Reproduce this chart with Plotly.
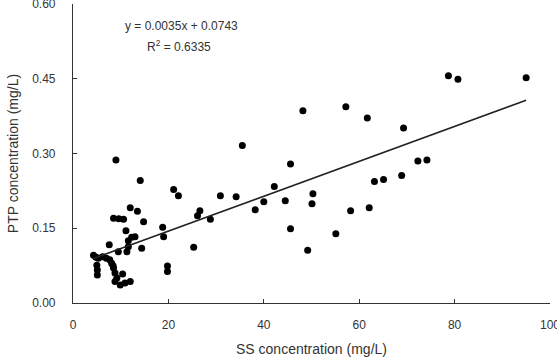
import plotly.graph_objects as go

ss = [78.7, 80.7, 95.0, 61.7, 69.3, 72.3, 74.2, 63.2, 65.1, 68.9, 62.1,
      48.2, 57.2, 35.5, 45.6, 30.9, 34.2, 42.2, 40.0, 38.2, 44.5, 50.3, 50.1,
      58.2, 26.6, 26.1, 28.8, 45.6, 55.1, 49.2, 25.3,
      9.0, 14.1, 21.1, 22.1, 12.0, 13.5, 8.5, 9.6, 10.6, 14.8, 18.8, 19.0,
      11.1, 12.3, 13.0, 11.6, 7.6, 14.4, 11.6, 9.5,
      4.3, 4.8, 5.3, 6.2, 7.0, 7.7, 8.1, 8.4,
      5.0, 5.1, 5.1, 8.5, 8.8, 9.2, 8.8, 10.4, 9.9, 10.9, 12.0,
      19.8, 19.8, 11.3]
ptp = [0.456, 0.449, 0.452, 0.371, 0.351, 0.285, 0.287, 0.244, 0.248, 0.256, 0.191,
       0.386, 0.394, 0.316, 0.279, 0.215, 0.213, 0.234, 0.203, 0.187, 0.205, 0.219, 0.199,
       0.185, 0.185, 0.175, 0.168, 0.149, 0.139, 0.106, 0.112,
       0.287, 0.246, 0.228, 0.215, 0.191, 0.184, 0.170, 0.169, 0.168, 0.163, 0.152, 0.133,
       0.145, 0.132, 0.133, 0.125, 0.117, 0.110, 0.113, 0.103,
       0.096, 0.092, 0.090, 0.093, 0.090, 0.087, 0.080, 0.075,
       0.076, 0.066, 0.056, 0.070, 0.060, 0.050, 0.043, 0.058, 0.036, 0.040, 0.043,
       0.074, 0.063, 0.103]

slope = 0.0035
intercept = 0.0743
r2 = 0.6335
x_ticks = [0, 20, 40, 60, 80, 100]
y_ticks = [0.00, 0.15, 0.30, 0.45, 0.60]

xmin, xmax = min(ss), max(ss)
fig = go.Figure()
fig.add_trace(go.Scatter(x=ss, y=ptp, mode="markers",
                         marker=dict(color="black", size=7, line=dict(width=0)),
                         showlegend=False, cliponaxis=False))
fig.add_trace(go.Scatter(x=[xmin, xmax],
                         y=[slope * xmin + intercept, slope * xmax + intercept],
                         mode="lines", line=dict(color="#222222", width=1.6),
                         showlegend=False))

font = dict(family="Liberation Sans, Arial, sans-serif", size=12, color="#333333")
fig.update_layout(
    width=557, height=357,
    margin=dict(l=73, r=7, t=4, b=54, autoexpand=False),
    paper_bgcolor="white", plot_bgcolor="white",
    font=font,
    xaxis=dict(range=[0, 100], tickvals=x_ticks, showgrid=False, zeroline=False,
               showline=True, linecolor="#333333", linewidth=1.2,
               ticks="inside", ticklen=4, tickcolor="#333333",
               ticklabelstandoff=10, ticklabeloverflow="allow", automargin=False,
               title=dict(text="SS concentration (mg/L)", standoff=18)),
    yaxis=dict(range=[0, 0.6], tickvals=y_ticks, tickformat=".2f", showgrid=False,
               zeroline=False, showline=True, linecolor="#333333", linewidth=1.2,
               ticks="inside", ticklen=4, tickcolor="#333333",
               ticklabelstandoff=14, ticklabeloverflow="allow", automargin=False,
               title=dict(text="PTP concentration (mg/L)", standoff=10)),
)
fig.add_annotation(x=22.8, y=0.556, xref="x", yref="y",
                   text=f"y = {slope}x + {intercept}", showarrow=False,
                   font=dict(size=12, color="#333333"))
fig.add_annotation(x=22.2, y=0.516, xref="x", yref="y",
                   text=f"R<sup>2</sup> = {r2}", showarrow=False,
                   font=dict(size=12, color="#333333"))

fig.write_html("out.html")
